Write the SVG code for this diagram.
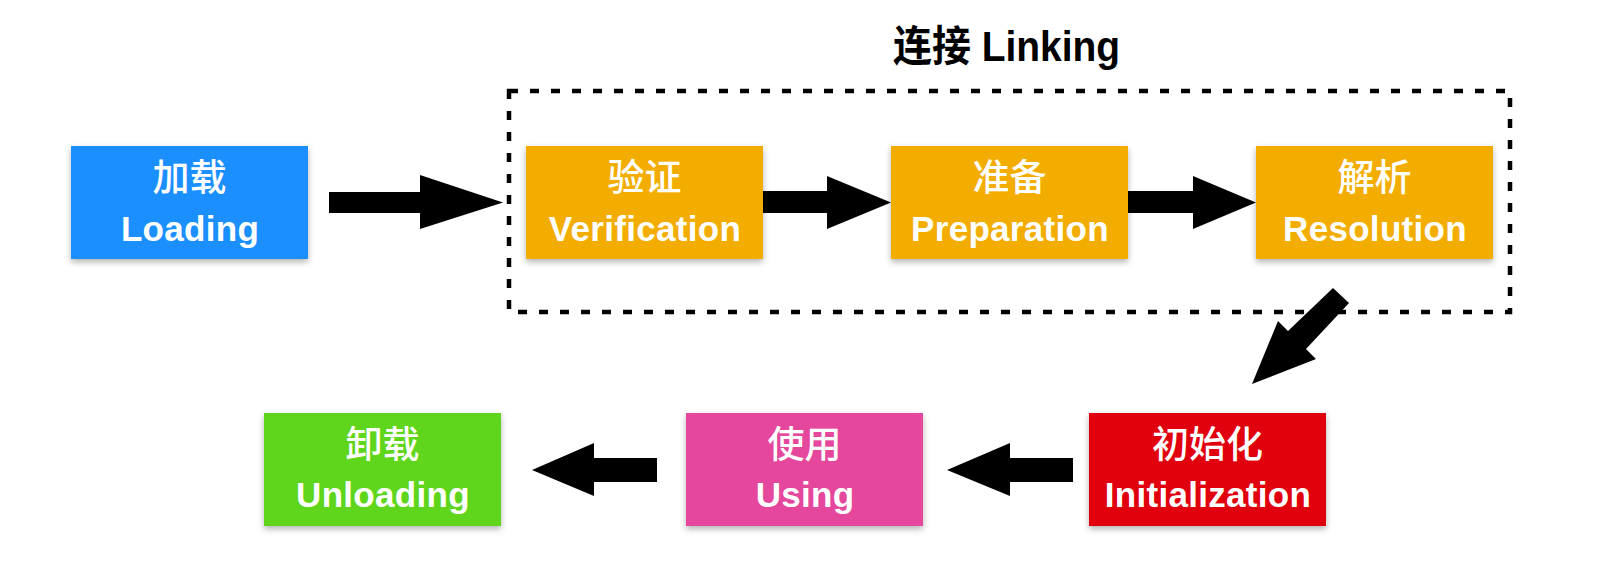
<svg xmlns="http://www.w3.org/2000/svg" width="1600" height="572" viewBox="0 0 1600 572">
  <defs>
    <filter id="sh" x="-10%" y="-10%" width="120%" height="130%">
      <feDropShadow dx="0" dy="3" stdDeviation="3" flood-color="#000" flood-opacity="0.3"/>
    </filter>
    <style>
      .box { filter: url(#sh); }
      .cn { font-family: "Noto Sans CJK SC", sans-serif; font-size: 37px; font-weight: 500; fill: #fff; text-anchor: middle; }
      .en { font-family: "Liberation Sans", "Noto Sans CJK SC", sans-serif; font-size: 35px; font-weight: bold; letter-spacing: 0.3px; fill: #fff; text-anchor: middle; }
      .title { font-family: "Liberation Sans", "Noto Sans CJK SC", sans-serif; font-size: 42px; font-weight: bold; fill: #000; }
      .arrow { fill: #000; }
    </style>
  </defs>
  <rect width="1600" height="572" fill="#fff"/>

  <g id="linking">
    <rect x="509" y="91" width="1001" height="221" fill="none" stroke="#000" stroke-width="4.5" stroke-dasharray="9 12"/>
    <text class="title" x="893" y="61" textLength="227" lengthAdjust="spacingAndGlyphs">连接 Linking</text>
  </g>

  <g id="loading">
    <rect class="box" x="71" y="146" width="237" height="113" fill="#1A8FFF"/>
    <text class="cn" x="189.5" y="191">加载</text>
    <text class="en" x="190" y="241">Loading</text>
  </g>
  <g id="verification">
    <rect class="box" x="526" y="146" width="237" height="113" fill="#F2AD00"/>
    <text class="cn" x="644.5" y="191">验证</text>
    <text class="en" x="645" y="241">Verification</text>
  </g>
  <g id="preparation">
    <rect class="box" x="891" y="146" width="237" height="113" fill="#F2AD00"/>
    <text class="cn" x="1009.5" y="191">准备</text>
    <text class="en" x="1010" y="241">Preparation</text>
  </g>
  <g id="resolution">
    <rect class="box" x="1256" y="146" width="237" height="113" fill="#F2AD00"/>
    <text class="cn" x="1374.5" y="191">解析</text>
    <text class="en" x="1375" y="241">Resolution</text>
  </g>
  <g id="initialization">
    <rect class="box" x="1089" y="413" width="237" height="113" fill="#E1000A"/>
    <text class="cn" x="1207.5" y="458">初始化</text>
    <text class="en" x="1208" y="507">Initialization</text>
  </g>
  <g id="using">
    <rect class="box" x="686" y="413" width="237" height="113" fill="#E4479B"/>
    <text class="cn" x="804.5" y="458">使用</text>
    <text class="en" x="805" y="507">Using</text>
  </g>
  <g id="unloading">
    <rect class="box" x="264" y="413" width="237" height="113" fill="#5ED51C"/>
    <text class="cn" x="382.5" y="458">卸载</text>
    <text class="en" x="383" y="507">Unloading</text>
  </g>

  <g id="connectors">
    <polygon class="arrow" points="329,192 420,192 420,175 503,202.5 420,229 420,213 329,213"/>
    <polygon class="arrow" points="763,191 827,191 827,176 891,202.5 827,229 827,213 763,213"/>
    <polygon class="arrow" points="1128,191 1193,191 1193,176 1256,202.5 1193,229 1193,213 1128,213"/>
    <polygon class="arrow" points="1333,288 1349,303 1306,349 1316,359 1252,384 1278,321 1288,331"/>
    <polygon class="arrow" points="1073,458 1010,458 1010,443 947,470 1010,496 1010,482 1073,482"/>
    <polygon class="arrow" points="657,458 594,458 594,443 532,470 594,496 594,482 657,482"/>
  </g>
</svg>
